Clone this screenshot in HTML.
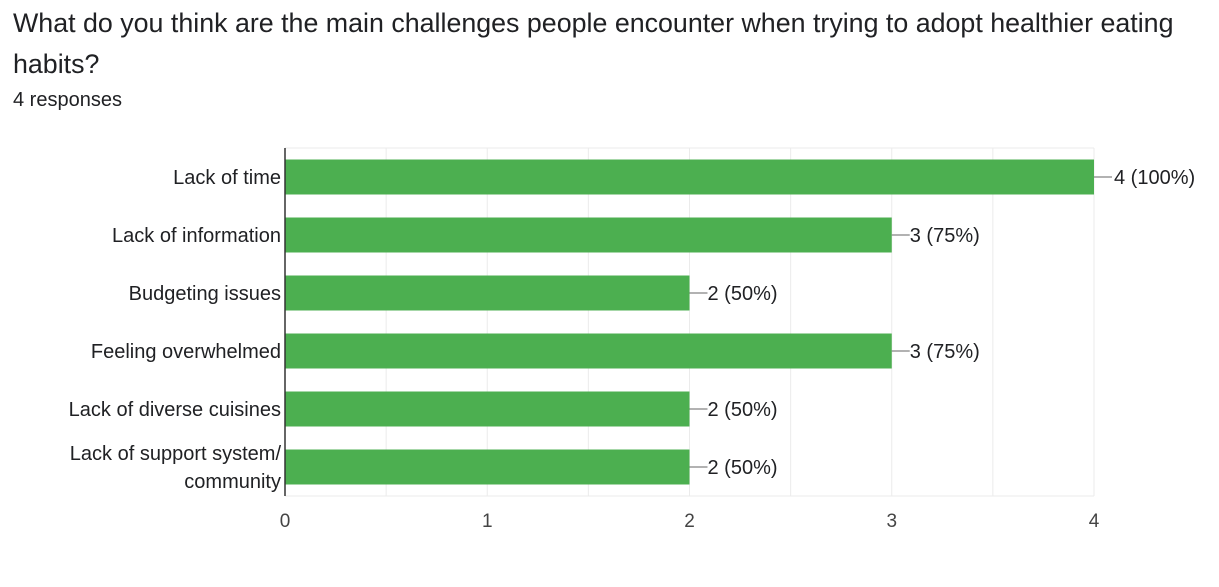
<!DOCTYPE html>
<html><head><meta charset="utf-8"><style>
body{margin:0;background:#fff;width:1219px;height:587px;overflow:hidden;font-family:"Liberation Sans",Arial,sans-serif;}
.title{position:absolute;left:13px;top:3px;font-size:26.8px;line-height:41px;color:#202124;width:1185px;}
.resp{position:absolute;left:13px;top:89px;font-size:20px;color:#202124;}
</style></head><body>
<div class="title">What do you think are the main challenges people encounter when trying to adopt healthier eating habits?</div>
<div class="resp">4 responses</div>
<svg id="chart" width="1219" height="587" style="position:absolute;left:0;top:0" font-family="Liberation Sans, Arial, sans-serif"></svg>
<script>
const categories=[["Lack of time"],["Lack of information"],["Budgeting issues"],["Feeling overwhelmed"],["Lack of diverse cuisines"],["Lack of support system/","community"]];
const values=[4,3,2,3,2,2];
const percents=["100%","75%","50%","75%","50%","50%"];
const ticks=[0,1,2,3,4];
const svg=document.getElementById('chart');
const NS='http://www.w3.org/2000/svg';
const x0=285,x1=1094,plotTop=148,plotBot=496,maxV=4;
const xs=v=>x0+(x1-x0)*v/maxV;
const band=(plotBot-plotTop)/categories.length;
const yc=i=>plotTop+band*(i+0.5);
function mk(t,a,txt){const e=document.createElementNS(NS,t);for(const k in a)e.setAttribute(k,a[k]);if(txt!=null)e.textContent=txt;svg.appendChild(e);return e;}
for(let v=0.5;v<=maxV;v+=0.5){const g=mk('line',{x1:xs(v),x2:xs(v),y1:plotTop,y2:plotBot,stroke:'#ebebeb','stroke-width':1});

}
const tl=mk('line',{x1:x0,x2:x1,y1:plotTop,y2:plotTop,stroke:'#ebebeb'});


const bl=mk('line',{x1:x0,x2:x1,y1:plotBot,y2:plotBot,stroke:'#ebebeb'});


categories.forEach((c,i)=>{
 const y=yc(i);
 const b=mk('rect',{x:x0,y:y-17.5,width:xs(values[i])-x0,height:35,fill:'#4caf50'});
 
 
 const ld=mk('line',{x1:xs(values[i]),x2:xs(values[i])+18,y1:y,y2:y,stroke:'#666'});
 
 
 const vt=mk('text',{x:xs(values[i])+(values[i]===maxV?20:18),y:y+7,'font-size':20,fill:'#202124'},values[i]+' ('+percents[i]+')');
 
 
 c.forEach((line,j)=>{
  const ty=y+7+(c.length===1?0:(j-0.5)*28);
  const t=mk('text',{x:x0-4,y:ty,'font-size':20,fill:'#202124','text-anchor':'end'},line);
  
  
 });
});
const ax=mk('line',{x1:x0,x2:x0,y1:plotTop,y2:plotBot,stroke:'#333','stroke-width':1.5});


ticks.forEach(t=>{const e=mk('text',{x:xs(t),y:527,'font-size':19,fill:'#444','text-anchor':'middle'},String(t));

});
</script>
</body></html>
